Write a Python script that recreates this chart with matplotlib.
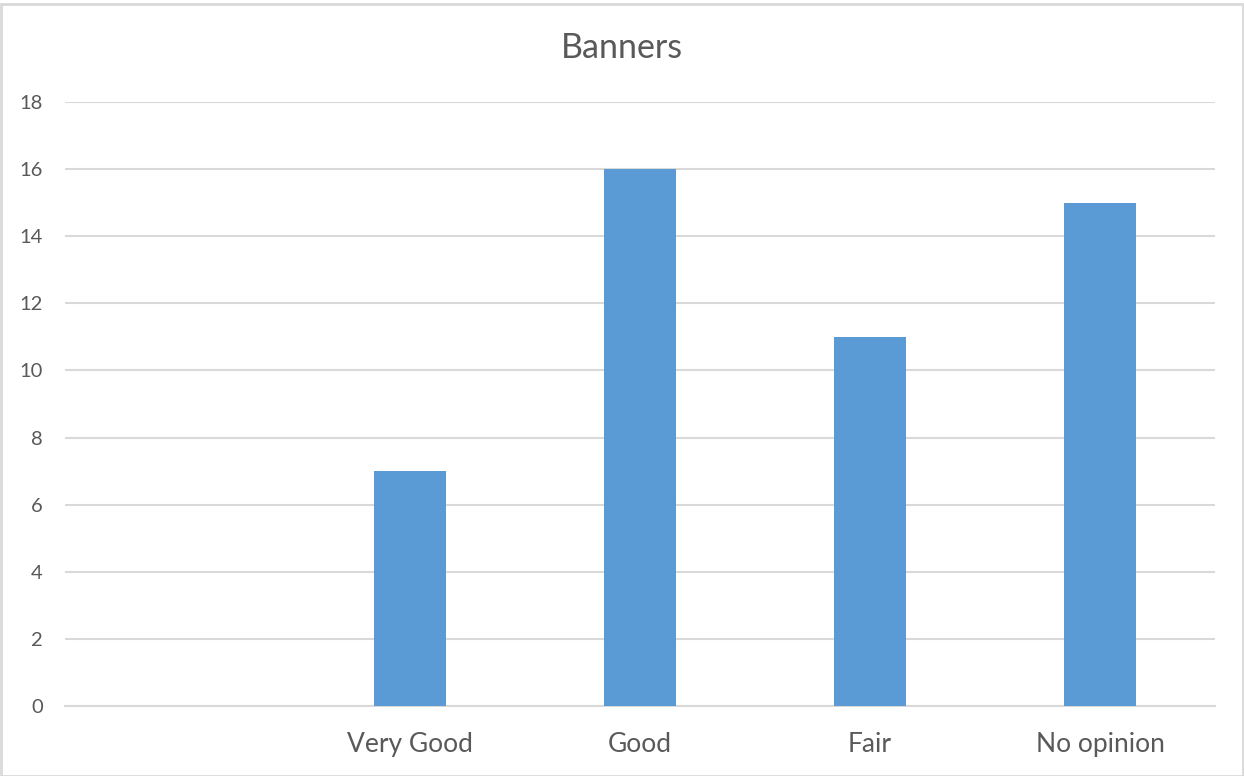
import matplotlib
matplotlib.use('Agg')
import matplotlib.pyplot as plt
from matplotlib.patches import Rectangle

# data
categories = ['', 'Very Good', 'Good', 'Fair', 'No opinion']
counts = [0, 7, 16, 11, 15]
yticks = [0, 2, 4, 6, 8, 10, 12, 14, 16, 18]

BAR_COLOR = '#5b9bd5'
TEXT_COLOR = '#595959'
GRID_COLOR = '#d9d9d9'

plt.rcParams['font.family'] = ['Lato', 'DejaVu Sans']

fig = plt.figure(figsize=(12.44, 7.76), dpi=100)
ax = fig.add_axes([65 / 1244, 1 - 706 / 776, 1150 / 1244, 604 / 776])

x = list(range(len(categories)))
ax.bar(x, counts, width=0.313, color=BAR_COLOR, zorder=3)

ax.set_xlim(-0.5, len(categories) - 0.5)
ax.set_ylim(0, 18)
ax.set_yticks(yticks)
ax.set_xticks(x)
ax.set_xticklabels(categories)

ax.grid(axis='y', color=GRID_COLOR, linewidth=1.5, zorder=0)
for s in ['top', 'right', 'left']:
    ax.spines[s].set_visible(False)
ax.spines['bottom'].set_color(GRID_COLOR)
ax.spines['bottom'].set_linewidth(1.5)
ax.tick_params(axis='both', length=0, colors=TEXT_COLOR)
ax.tick_params(axis='y', labelsize=14.5, pad=16)
ax.tick_params(axis='x', labelsize=19, pad=19)

fig.text(622 / 1244, 1 - 48 / 776, 'Banners', ha='center', va='center',
         fontsize=24.5, color=TEXT_COLOR)

# chart border
fig.patches.append(Rectangle((1 / 1244, 0), 1 - 2 / 1244, 1 - 4 / 776,
                             transform=fig.transFigure, fill=False,
                             edgecolor=GRID_COLOR, linewidth=2))

fig.savefig('out.png', dpi=100)
